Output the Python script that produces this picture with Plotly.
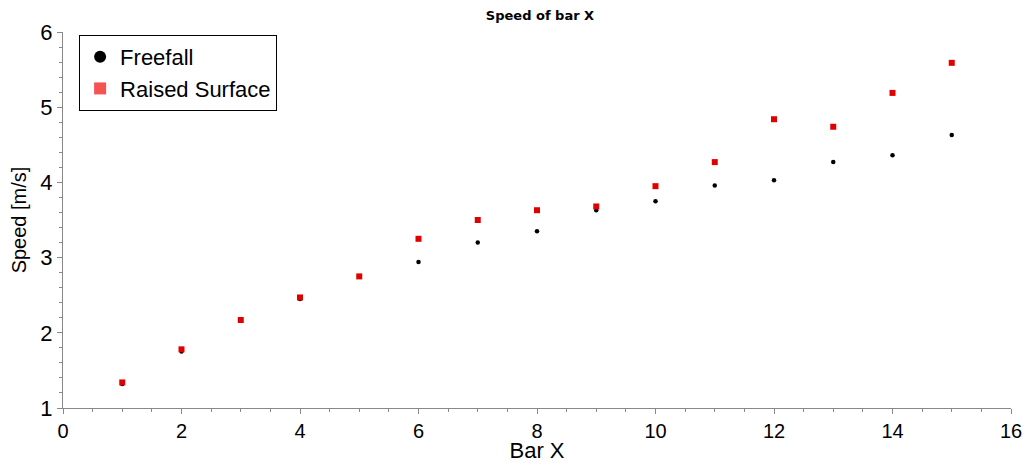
import plotly.graph_objects as go

bar_x = [1, 2, 3, 4, 5, 6, 7, 8, 9, 10, 11, 12, 13, 14, 15]
freefall = [1.32, 1.75, 2.16, 2.45, 2.75, 2.94, 3.20, 3.35, 3.63, 3.75, 3.96, 4.03, 4.27, 4.36, 4.63]
raised_surface = [1.34, 1.78, 2.17, 2.47, 2.75, 3.25, 3.50, 3.63, 3.68, 3.95, 4.27, 4.84, 4.74, 5.19, 5.59]

FONT = "Liberation Sans, Arial, Helvetica, sans-serif"

fig = go.Figure()
fig.add_trace(go.Scatter(x=bar_x, y=freefall, mode="markers", name="Freefall",
                         marker=dict(symbol="circle", size=4.5, color="#000000"),
                         showlegend=False))
fig.add_trace(go.Scatter(x=bar_x, y=raised_surface, mode="markers", name="Raised Surface",
                         marker=dict(symbol="square", size=6, color="#e00000"),
                         showlegend=False))
# legend entries
fig.add_trace(go.Scatter(x=[None], y=[None], mode="markers", name="Freefall",
                         marker=dict(symbol="circle", size=12, color="#000000")))
fig.add_trace(go.Scatter(x=[None], y=[None], mode="markers", name="Raised Surface",
                         marker=dict(symbol="square", size=12, color="#f55252")))

axis_common = dict(
    showgrid=False, zeroline=False, showline=True, linecolor="#888888", linewidth=1,
    ticks="outside", ticklen=5, tickcolor="#888888", tickwidth=1, automargin=False,
)

fig.update_xaxes(range=[0, 16], dtick=2, tick0=0,
                 minor=dict(dtick=0.5, ticks="outside", ticklen=3, tickcolor="#888888"),
                 tickfont=dict(family=FONT, size=20, color="#000000"),
                 title=dict(text="Bar X", font=dict(family=FONT, size=22, color="#000000"), standoff=7),
                 **axis_common)
fig.update_yaxes(range=[1, 6], dtick=1, tick0=1,
                 minor=dict(dtick=0.2, ticks="outside", ticklen=3, tickcolor="#888888"),
                 tickfont=dict(family=FONT, size=22, color="#000000"),
                 title=dict(text="Speed [m/s]", font=dict(family=FONT, size=20, color="#000000"), standoff=8),
                 **axis_common)

fig.update_layout(
    width=1026, height=463,
    margin=dict(l=63, r=15, t=32, b=55, autoexpand=False),
    paper_bgcolor="white", plot_bgcolor="white",
    title=dict(text="<b>Speed of bar X</b>", x=540 / 1026, xanchor="center", y=1 - 15 / 463, yanchor="middle",
               font=dict(family="DejaVu Sans, Verdana, sans-serif", size=13, color="#000000")),
    legend=dict(x=0.017, y=0.992, xanchor="left", yanchor="top",
                bordercolor="#000000", borderwidth=1, bgcolor="white",
                font=dict(family=FONT, size=22, color="#000000"),
                itemsizing="constant", tracegroupgap=0),
    showlegend=True,
)

fig.write_html("out.html", config={"displayModeBar": False},
               post_script="document.body.style.margin='0';document.body.style.overflow='hidden';")
